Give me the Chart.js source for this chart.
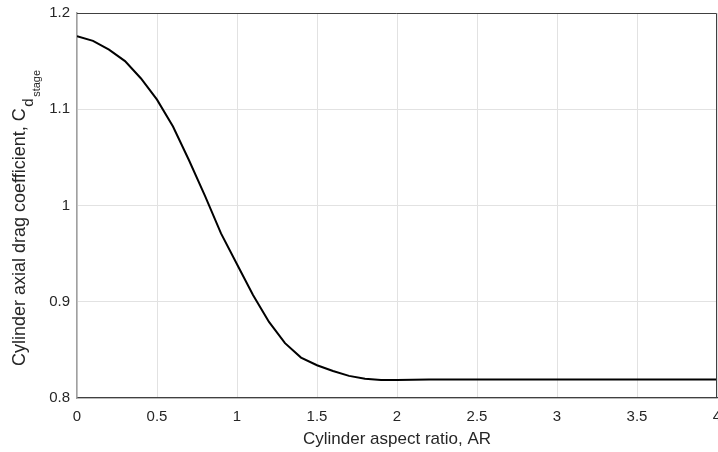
<!DOCTYPE html>
<html>
<head>
<meta charset="utf-8">
<script src="https://cdn.jsdelivr.net/npm/chart.js@4"></script>
<style>
  body { margin: 0; background: #fff; }
  canvas { display: block; }
</style>
</head>
<body>
<canvas id="dragChart" width="718" height="452"></canvas>
<script>
// aspect ratio AR and the stage drag coefficient
var aspectRatio = [0, 0.1, 0.2, 0.3, 0.4, 0.5, 0.6, 0.7, 0.8, 0.9, 1.0,
                   1.1, 1.2, 1.3, 1.4, 1.5, 1.6, 1.7, 1.8, 1.9, 2.0,
                   2.2, 2.5, 3.0, 3.5, 4.0];
var dragCoef = [1.176, 1.171, 1.162, 1.150, 1.132, 1.110, 1.082, 1.047, 1.010, 0.971, 0.939,
                0.907, 0.879, 0.857, 0.842, 0.834, 0.828, 0.823, 0.820, 0.8186, 0.8187,
                0.8192, 0.8192, 0.8192, 0.8192, 0.8192];

// tick labels
var xTicks = [0, 0.5, 1, 1.5, 2, 2.5, 3, 3.5, 4];
var yTicks = [0.8, 0.9, 1, 1.1, 1.2];

var points = [];
for (var i = 0; i < aspectRatio.length; i++) {
    points.push({x: aspectRatio[i], y: dragCoef[i]});
}

var axisColor = '#404040';
var textColor = '#262626';
var fontName = '"Liberation Sans", Arial, sans-serif';

// box on top/right + axis titles (the y one needs subscripts)
var boxAndTitles = {
    id: 'boxAndTitles',
    afterDraw: function(chart) {
        var c = chart.ctx;
        var a = chart.chartArea;
        c.save();
        c.strokeStyle = axisColor;
        c.lineWidth = 1;
        c.beginPath();
        c.moveTo(a.left, a.top + 0.5);
        c.lineTo(a.right - 0.5, a.top + 0.5);
        c.lineTo(a.right - 0.5, a.bottom);
        c.stroke();

        c.fillStyle = textColor;
        c.font = '17px ' + fontName;
        c.textAlign = 'center';
        c.textBaseline = 'middle';
        c.fillText('Cylinder aspect ratio, AR', (a.left + a.right) / 2, 439);

        c.translate(25, 366);
        c.rotate(-Math.PI / 2);
        c.textAlign = 'left';
        c.textBaseline = 'alphabetic';
        c.font = '18px ' + fontName;
        var main = 'Cylinder axial drag coefficient, C';
        c.fillText(main, 0, 0);
        var w = c.measureText(main).width;
        c.font = '15px ' + fontName;
        c.fillText('d', w + 1.5, 8);
        var dw = c.measureText('d').width;
        c.font = '11px ' + fontName;
        c.fillText('stage', w + 3 + dw, 15);
        c.restore();
    }
};

var ctx = document.getElementById('dragChart').getContext('2d');
var chart = new Chart(ctx, {
    type: 'scatter',
    data: {
        datasets: [{
            data: points,
            showLine: true,
            borderColor: '#000000',
            borderWidth: 2,
            pointRadius: 0,
            tension: 0
        }]
    },
    options: {
        responsive: false,
        animation: false,
        layout: { padding: { top: 13, right: 1, left: 0, bottom: 0 } },
        plugins: {
            legend: { display: false },
            tooltip: { enabled: false }
        },
        scales: {
            x: {
                type: 'linear',
                min: 0,
                max: 4,
                afterFit: function(scale) {
                    scale.height = 54;
                    // let the last label run off the edge like the original
                    scale.paddingLeft = 0;
                    scale.paddingRight = 0;
                },
                afterBuildTicks: function(scale) {
                    scale.ticks = xTicks.map(function(v) { return {value: v}; });
                },
                ticks: {
                    color: textColor,
                    font: { family: fontName, size: 15 },
                    padding: 10,
                    maxRotation: 0,
                    callback: function(v) { return String(v); }
                },
                grid: { color: '#e2e2e2', drawTicks: false },
                border: { color: axisColor, width: 1.3 }
            },
            y: {
                type: 'linear',
                min: 0.8,
                max: 1.2,
                afterFit: function(scale) {
                    scale.width = 77;
                    scale.paddingTop = 0;
                    scale.paddingBottom = 0;
                },
                afterBuildTicks: function(scale) {
                    scale.ticks = yTicks.map(function(v) { return {value: v}; });
                },
                ticks: {
                    color: textColor,
                    font: { family: fontName, size: 15 },
                    padding: 7,
                    callback: function(v) { return String(v); }
                },
                grid: { color: '#e2e2e2', drawTicks: false },
                border: { color: '#a0a0a0', width: 1.5 }
            }
        }
    },
    plugins: [boxAndTitles]
});
</script>
</body>
</html>
